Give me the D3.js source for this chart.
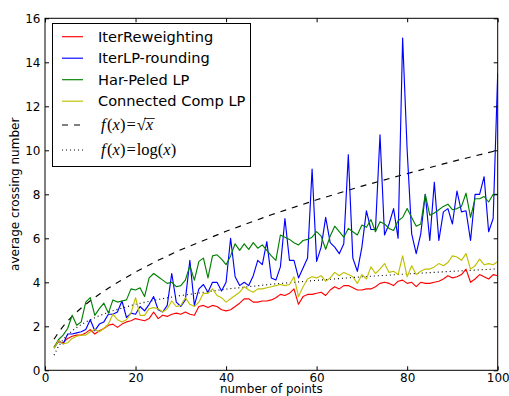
<!DOCTYPE html>
<html>
<head>
<meta charset="utf-8">
<script src="https://cdn.jsdelivr.net/npm/d3@7"></script>
<style>
body { margin: 0; background: #fff; }
svg { display: block; }
text { fill: #000; }
</style>
</head>
<body>
<svg id="chart" width="509" height="396"></svg>
<script>
// number of points on the x axis
var points = d3.range(2, 101);

var iterReweighting = [1.05,1.3,1.25,1.45,1.55,1.6,1.6,1.7,1.85,1.65,1.8,1.9,2.05,2.1,1.95,2.1,2.2,2.25,2.35,2.3,
  2.25,2.35,2.65,2.35,2.5,2.45,2.55,2.6,2.55,2.65,2.55,2.5,2.9,2.95,2.85,2.95,2.9,2.75,2.7,2.75,
  2.9,3.05,3.25,3.25,3.1,3.1,3.15,3.15,3.2,3.3,3.45,3.4,3.5,3.7,3.0,3.35,3.45,3.45,3.5,3.55,
  3.4,3.65,3.8,3.7,3.85,3.85,3.75,3.65,3.65,3.7,3.7,3.8,3.95,4.0,3.95,3.85,4.05,4.1,3.95,4.0,
  3.8,4.0,3.95,3.95,4.0,4.05,4.15,4.3,4.2,4.25,4.35,4.6,4.0,4.15,4.35,4.25,4.15,4.35,4.3];

var iterLPRounding = [1.0,1.35,1.2,1.65,1.65,1.7,1.75,1.85,2.3,1.8,2.1,2.2,2.55,2.55,2.65,3.15,2.4,2.6,2.55,2.9,
  2.7,3.0,3.35,2.75,2.65,2.95,4.4,3.1,2.9,3.2,5.0,2.95,3.7,3.9,3.55,4.0,4.0,3.6,4.0,6.0,
  4.25,3.85,4.0,3.85,4.3,5.0,4.8,5.85,4.2,4.1,4.7,6.9,5.0,5.0,4.2,4.65,5.1,9.15,4.95,5.6,
  6.95,5.8,5.6,5.3,5.75,9.8,5.1,4.5,5.6,7.25,6.4,6.4,10.7,6.15,6.65,7.35,6.0,15.1,10.0,6.2,
  5.3,6.2,8.0,5.9,8.55,5.9,7.2,7.35,6.65,8.15,7.2,7.25,5.9,8.0,8.0,8.8,6.3,6.9,13.5];

var harPeledLP = [1.05,1.4,1.6,1.9,2.5,2.05,2.2,3.1,3.3,2.5,2.8,3.05,2.6,3.2,3.1,3.15,3.2,3.7,3.65,3.75,
  3.35,4.2,4.4,4.25,4.1,3.95,4.0,3.8,3.85,4.1,4.75,4.1,4.95,5.1,4.2,5.2,5.25,5.05,4.8,5.2,
  5.75,5.45,5.75,5.5,5.8,5.55,5.7,5.45,5.2,5.0,6.15,6.05,5.95,5.8,5.7,5.9,5.95,6.05,6.3,6.1,
  5.5,6.1,6.55,6.3,6.05,6.45,6.3,6.15,6.6,6.5,6.85,6.3,6.75,6.65,6.45,6.35,6.8,6.95,7.35,6.95,
  6.55,6.65,8.0,7.05,7.15,7.3,7.45,7.55,7.3,7.35,7.45,8.05,6.95,7.8,7.8,7.9,7.65,8.0,8.0];

var connectedCompLP = [1.0,1.35,1.2,1.25,1.45,1.55,1.6,1.6,1.75,1.85,1.75,1.9,2.1,2.55,2.3,2.2,2.3,2.6,3.3,2.5,
  2.5,2.8,2.85,2.8,2.65,2.8,3.15,2.9,2.95,3.3,3.0,2.9,3.1,3.5,3.5,3.7,3.4,3.3,3.1,3.25,
  3.4,3.55,3.8,3.65,3.55,3.7,3.7,3.75,3.8,3.85,3.9,3.85,3.9,4.25,3.35,3.8,4.15,4.25,4.2,4.3,
  4.05,4.2,4.45,4.3,4.45,4.35,4.25,3.95,4.35,4.15,4.7,4.4,4.6,4.85,4.45,4.5,4.35,5.2,4.25,4.75,
  4.35,4.5,4.6,4.6,4.7,4.85,4.75,4.9,5.2,5.15,5.0,5.3,4.6,4.75,5.05,4.8,4.85,4.8,4.95];

// reference curves
var curveX = [2,3,4,5,6,7,8,10,12,15,20,25,30,40,50,60,70,80,90,100];
var sqrtCurve = [1.41,1.73,2.0,2.24,2.45,2.65,2.83,3.16,3.46,3.87,4.47,5.0,5.48,6.32,7.07,7.75,8.37,8.94,9.49,10.0];
var logCurve = [0.69,1.10,1.39,1.61,1.79,1.95,2.08,2.30,2.48,2.71,3.0,3.22,3.40,3.69,3.91,4.09,4.25,4.38,4.50,4.61];

var xTicks = [0, 20, 40, 60, 80, 100];
var yTicks = [0, 2, 4, 6, 8, 10, 12, 14, 16];

var series = [
  {name: "IterReweighting", values: iterReweighting, color: "#ff0000"},
  {name: "IterLP-rounding", values: iterLPRounding, color: "#0000ff"},
  {name: "Har-Peled LP", values: harPeledLP, color: "#008000"},
  {name: "Connected Comp LP", values: connectedCompLP, color: "#bfbf00"}
];

(function() {
var sans = "DejaVu Sans, sans-serif";
var svg = d3.select("#chart");
var mL = 45, mR = 497.7, mT = 18.3, mB = 370.3;
var lw = 1.15;

var x = d3.scaleLinear().domain([0, 100]).range([mL, mR]);
var y = d3.scaleLinear().domain([0, 16]).range([mB, mT]);

svg.append("clipPath").attr("id", "clip")
  .append("rect").attr("x", mL).attr("y", mT).attr("width", mR - mL).attr("height", mB - mT);

var plot = svg.append("g").attr("clip-path", "url(#clip)");

var line = d3.line()
  .x(function(d) { return x(d[0]); })
  .y(function(d) { return y(d[1]); });

// reference functions
plot.append("path")
  .attr("d", line(d3.zip(curveX, sqrtCurve)))
  .attr("fill", "none").attr("stroke", "#000").attr("stroke-width", lw)
  .attr("stroke-dasharray", "6,6");
plot.append("path")
  .attr("d", line(d3.zip(curveX, logCurve)))
  .attr("fill", "none").attr("stroke", "#000").attr("stroke-width", lw)
  .attr("stroke-dasharray", "1,3");

series.forEach(function(s) {
  plot.append("path")
    .attr("d", line(d3.zip(points, s.values)))
    .attr("fill", "none")
    .attr("stroke", s.color)
    .attr("stroke-width", lw)
    .attr("stroke-linejoin", "round");
});

// axes frame + inward ticks on all four sides
svg.append("rect")
  .attr("x", mL).attr("y", mT).attr("width", mR - mL).attr("height", mB - mT)
  .attr("fill", "none").attr("stroke", "#000").attr("stroke-width", 1);

svg.append("g").attr("transform", "translate(0," + mB + ")")
  .call(d3.axisBottom(x).tickValues(xTicks).tickSizeInner(-4).tickSizeOuter(0).tickPadding(3.5));
svg.append("g").attr("transform", "translate(0," + mT + ")")
  .call(d3.axisTop(x).tickValues(xTicks).tickSizeInner(-4).tickSizeOuter(0).tickFormat(""));
svg.append("g").attr("transform", "translate(" + mL + ",0)")
  .call(d3.axisLeft(y).tickValues(yTicks).tickSizeInner(-4).tickSizeOuter(0).tickPadding(4.5));
svg.append("g").attr("transform", "translate(" + mR + ",0)")
  .call(d3.axisRight(y).tickValues(yTicks).tickSizeInner(-4).tickSizeOuter(0).tickFormat(""));

svg.selectAll(".domain").remove();
svg.selectAll(".tick line").attr("stroke", "#000");
svg.selectAll(".tick text").style("font-size", "12px").style("font-family", sans).style("fill", "#000");

svg.append("text")
  .attr("x", (mL + mR) / 2).attr("y", 393.2)
  .attr("text-anchor", "middle")
  .style("font-size", "12px").style("font-family", sans)
  .text("number of points");

svg.append("text")
  .attr("transform", "translate(19," + ((mT + mB) / 2) + ") rotate(-90)")
  .attr("text-anchor", "middle")
  .style("font-size", "12px").style("font-family", sans)
  .text("average crossing number");

// legend
var legend = svg.append("g");
legend.append("rect")
  .attr("x", 52.5).attr("y", 23.5).attr("width", 198).attr("height", 143)
  .attr("fill", "#fff").attr("stroke", "#000").attr("stroke-width", 1);

var rowY = [36.7, 58.2, 79.7, 101.2, 125, 150];

series.forEach(function(s, i) {
  legend.append("line")
    .attr("x1", 62).attr("x2", 83).attr("y1", rowY[i]).attr("y2", rowY[i])
    .attr("stroke", s.color).attr("stroke-width", lw);
  legend.append("text")
    .attr("x", 98).attr("y", rowY[i]).attr("dy", "0.36em")
    .style("font-size", "14.6px").style("font-family", sans)
    .text(s.name);
});

var dashes = ["6,6", "1,3"];
dashes.forEach(function(dsh, i) {
  legend.append("line")
    .attr("x1", 62).attr("x2", 83).attr("y1", rowY[4 + i]).attr("y2", rowY[4 + i])
    .attr("stroke", "#000").attr("stroke-width", lw).attr("stroke-dasharray", dsh);
});

function mathLabel(yy, parts) {
  var t = legend.append("text")
    .attr("x", 101).attr("y", yy).attr("dy", "0.32em")
    .style("font-family", "Liberation Serif, DejaVu Serif, serif")
    .style("font-size", "16.5px");
  parts.forEach(function(p) {
    t.append("tspan")
      .style("font-style", p.it ? "italic" : "normal")
      .attr("class", p.cls || null)
      .attr("dx", p.dx || 0)
      .text(p.s);
  });
  return t;
}

var sq = mathLabel(rowY[4], [
  {s: "f", it: true}, {s: "(", dx: 1.5}, {s: "x", it: true}, {s: ")"},
  {s: "=", dx: 1}, {s: "\u221A", dx: 1}, {s: "x", it: true, cls: "rad"}
]);
var radBox = sq.select(".rad").node().getBBox();
legend.append("line")
  .attr("x1", radBox.x - 0.5).attr("x2", radBox.x + radBox.width + 1)
  .attr("y1", rowY[4] - 6.5).attr("y2", rowY[4] - 6.5)
  .attr("stroke", "#000").attr("stroke-width", 0.8);

mathLabel(rowY[5], [
  {s: "f", it: true}, {s: "(", dx: 1.5}, {s: "x", it: true}, {s: ")"},
  {s: "=", dx: 1}, {s: "log(", dx: 1}, {s: "x", it: true}, {s: ")"}
]);
})();
</script>
</body>
</html>
